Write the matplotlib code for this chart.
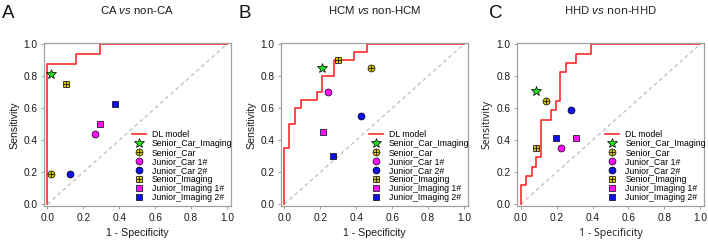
import matplotlib
matplotlib.use("Agg")
import matplotlib.pyplot as plt
from matplotlib.legend_handler import HandlerTuple

plt.rcParams['font.family'] = ['Liberation Sans', 'DejaVu Sans']
plt.rcParams['mathtext.fontset'] = 'custom'
plt.rcParams['mathtext.rm'] = 'Liberation Sans'
plt.rcParams['mathtext.it'] = 'Liberation Sans:italic'

# ---------------- data ----------------
panel_letters = ["A", "B", "C"]
titles = ["CA", "HCM", "HHD"]

roc_a_fpr = [0.0, 0.0, 0.16, 0.16, 0.295, 0.295, 1.0]
roc_a_tpr = [0.0, 0.875, 0.875, 0.9375, 0.9375, 1.0, 1.0]

roc_b_fpr = [0.0, 0.0, 0.026, 0.026, 0.06, 0.06, 0.09, 0.09, 0.18, 0.18, 0.21, 0.21,
             0.274, 0.274, 0.39, 0.39, 0.46, 0.46, 1.0]
roc_b_tpr = [0.0, 0.35, 0.35, 0.5, 0.5, 0.6, 0.6, 0.65, 0.65, 0.7, 0.7, 0.8,
             0.8, 0.9, 0.9, 0.95, 0.95, 1.0, 1.0]

roc_c_fpr = [0.0, 0.0, 0.03, 0.03, 0.06, 0.06, 0.086, 0.086, 0.112, 0.112, 0.168, 0.168,
             0.194, 0.194, 0.22, 0.22, 0.25, 0.25, 0.306, 0.306, 0.39, 0.39, 1.0]
roc_c_tpr = [0.0, 0.118, 0.118, 0.176, 0.176, 0.235, 0.235, 0.294, 0.294, 0.529, 0.529, 0.588,
             0.588, 0.647, 0.647, 0.824, 0.824, 0.882, 0.882, 0.941, 0.941, 1.0, 1.0]

reader_names = ["Senior_Car_Imaging", "Senior_Car", "Junior_Car 1#", "Junior_Car 2#",
                "Senior_Imaging", "Junior_Imaging 1#", "Junior_Imaging 2#"]
readers_a_fpr = [0.02, 0.02, 0.267, 0.128, 0.104, 0.293, 0.375]
readers_a_tpr = [0.8125, 0.1875, 0.4375, 0.1875, 0.75, 0.5, 0.625]
readers_b_fpr = [0.21, 0.483, 0.243, 0.424, 0.30, 0.213, 0.272]
readers_b_tpr = [0.85, 0.85, 0.70, 0.55, 0.90, 0.45, 0.30]
readers_c_fpr = [0.086, 0.142, 0.224, 0.28, 0.086, 0.306, 0.198]
readers_c_tpr = [0.706, 0.647, 0.353, 0.588, 0.353, 0.412, 0.412]

ticks = [0.0, 0.2, 0.4, 0.6, 0.8, 1.0]
tick_labels = ["0.0", "0.2", "0.4", "0.6", "0.8", "1.0"]

panels = [
    (roc_a_fpr, roc_a_tpr, readers_a_fpr, readers_a_tpr),
    (roc_b_fpr, roc_b_tpr, readers_b_fpr, readers_b_tpr),
    (roc_c_fpr, roc_c_tpr, readers_c_fpr, readers_c_tpr),
]

# ---------------- styles ----------------
yellow = '#d4c400'
green = '#22dd22'
magenta = '#ff10ff'
blue = '#1010ee'
red = '#ff2a2a'
frame_col = '#a0a0a0'

styles = [
    dict(marker='*', ms=7.0, color=green, cross=False),
    dict(marker='o', ms=5.0, color=yellow, cross=True),
    dict(marker='o', ms=5.0, color=magenta, cross=False),
    dict(marker='o', ms=5.0, color=blue, cross=False),
    dict(marker='s', ms=4.4, color=yellow, cross=True),
    dict(marker='s', ms=4.4, color=magenta, cross=False),
    dict(marker='s', ms=4.4, color=blue, cross=False),
]

W, H = 708, 242
fig = plt.figure(figsize=(W / 100, H / 100), dpi=100)

ax_left_px = [43.7, 280.7, 517.0]
ax_w_px = 187.0
ax_top_px = 43.3
ax_bot_px = 206.3
letter_x_px = [1.5, 238.5, 489.5]

for i, (fpr, tpr, rx, ry) in enumerate(panels):
    ax = fig.add_axes([ax_left_px[i] / W, 1 - ax_bot_px / H, ax_w_px / W,
                       (ax_bot_px - ax_top_px) / H])
    ax.set_xlim(-0.021, 1.021)
    ax.set_ylim(-0.013, 1.005)
    ax.plot([0, 1], [0, 1], ls=(0, (3, 2.5)), color='#bdbdbd', lw=0.9, zorder=1)
    roc_line, = ax.plot(fpr, tpr, color=red, lw=1.2, zorder=2, label='DL model')
    handles = [roc_line]
    for j, st in enumerate(styles):
        base, = ax.plot([rx[j]], [ry[j]], ls='none', marker=st['marker'], ms=st['ms'],
                        mfc=st['color'], mec='black', mew=0.5, zorder=3)
        if st['cross']:
            cr, = ax.plot([rx[j]], [ry[j]], ls='none', marker='+', ms=st['ms'] - 0.4,
                          color='black', mew=0.5, zorder=4)
            handles.append((base, cr))
        else:
            handles.append(base)
    for s in ax.spines.values():
        s.set_color(frame_col)
        s.set_linewidth(0.9)
    ax.set_xticks(ticks)
    ax.set_yticks(ticks)
    ax.set_xticklabels(tick_labels)
    ax.set_yticklabels(tick_labels)
    ax.tick_params(length=2.5, width=0.7, color=frame_col, labelsize=7.3, pad=2.0,
                   labelcolor='#1a1a1a')
    fam = ['Open Sans', 'DejaVu Sans'] if i == 2 else ['Liberation Sans', 'DejaVu Sans']
    ax.set_xlabel("1 - Specificity", fontsize=7.6, labelpad=4, color='#1a1a1a', family=fam)
    ax.set_ylabel("Sensitivity", fontsize=7.6, labelpad=3, color='#1a1a1a', family=fam)
    t = titles[i]
    ax.set_title(t + r" $\it{vs}$ non-" + t, fontsize=8.2, pad=21, color='#1a1a1a', family=fam)
    fig.text(letter_x_px[i] / W, 1 - 5 / H, panel_letters[i], fontsize=13.5,
             ha='left', va='top', color='#111111')
    ax.legend(handles, ["DL model"] + reader_names, loc='lower left',
              bbox_to_anchor=(0.472, 0.025), frameon=False, fontsize=6.3,
              borderpad=0, borderaxespad=0, labelspacing=0.0, handlelength=1.6,
              handletextpad=0.7, handler_map={tuple: HandlerTuple(ndivide=1)},
              markerscale=1.0)

fig.savefig("out.png", dpi=100)
